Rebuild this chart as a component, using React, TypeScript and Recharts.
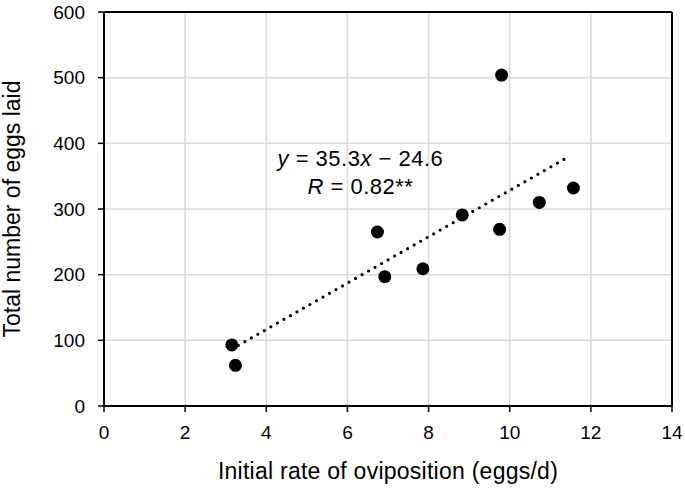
import React from "react";
import {
  ScatterChart,
  Scatter,
  XAxis,
  YAxis,
  CartesianGrid,
  ReferenceLine,
  ReferenceDot,
} from "recharts";

// Observed points
const rateValues = [3.15, 3.24, 6.74, 6.92, 7.86, 8.83, 9.75, 9.8, 10.73, 11.57];
const eggValues = [93, 62, 265, 197, 209, 291, 269, 504, 310, 332];

// Trendline end points (y = 35.3x − 24.6)
const trendX = [3.15, 11.45];
const trendY = [86.6, 379.6];

// Ticks
const xTicks = [0, 2, 4, 6, 8, 10, 12, 14];
const yTicks = [0, 100, 200, 300, 400, 500, 600];

// Annotation anchor (data coords)
const noteX = [6.32];
const noteY = [365.5];

const data = rateValues.map((x, i) => ({ x, y: eggValues[i] }));

const FONT = "'Liberation Sans', Arial, Helvetica, sans-serif";

const Dot = (props: any) => {
  const { cx, cy } = props;
  if (cx == null || cy == null) return null;
  return <circle cx={cx} cy={cy} r={6.5} fill="#000" />;
};

const XTitle = (props: any) => {
  const vb = props.viewBox || {};
  return (
    <text
      x={vb.x + vb.width / 2}
      y={vb.y + 73}
      textAnchor="middle"
      fontFamily={FONT}
      fontSize={23}
      letterSpacing={0.25}
      fill="#000"
    >
      Initial rate of oviposition (eggs/d)
    </text>
  );
};

const YTitle = (props: any) => {
  const vb = props.viewBox || {};
  const cx = 20;
  const cy = vb.y + vb.height / 2;
  return (
    <text
      x={cx}
      y={cy}
      transform={`rotate(-90 ${cx} ${cy})`}
      textAnchor="middle"
      fontFamily={FONT}
      fontSize={23}
      fill="#000"
    >
      Total number of eggs laid
    </text>
  );
};

const Note = (props: any) => {
  const vb = props.viewBox || {};
  const cx = vb.x + (vb.width || 0) / 2;
  const cy = vb.y + (vb.height || 0) / 2;
  return (
    <g fontFamily={FONT} fontSize={22} fill="#000" letterSpacing={0.5}>
      <text x={cx} y={cy} textAnchor="middle">
        <tspan fontStyle="italic">y</tspan>
        <tspan> = 35.3</tspan>
        <tspan fontStyle="italic">x</tspan>
        <tspan> − 24.6</tspan>
      </text>
      <text x={cx} y={cy + 28.5} textAnchor="middle">
        <tspan fontStyle="italic">R</tspan>
        <tspan> = 0.82**</tspan>
      </text>
    </g>
  );
};

export default function App() {
  return (
    <div style={{ position: "absolute", left: 0, top: 0 }}>
      <ScatterChart
        width={685}
        height={488}
        margin={{ top: 12, right: 13, left: 0, bottom: 0 }}
      >
        <CartesianGrid stroke="#d9d9d9" strokeWidth={1.5} />
        <XAxis
          type="number"
          dataKey="x"
          domain={[0, 14]}
          ticks={xTicks}
          interval={0}
          height={82}
          tickSize={6}
          tickMargin={14}
          axisLine={{ stroke: "#000", strokeWidth: 2 }}
          tickLine={{ stroke: "#000", strokeWidth: 1.5 }}
          tick={{ fill: "#000", fontSize: 19, fontFamily: FONT }}
          label={<XTitle />}
        />
        <YAxis
          type="number"
          dataKey="y"
          domain={[0, 600]}
          ticks={yTicks}
          interval={0}
          width={104}
          tickSize={6}
          tickMargin={13}
          axisLine={{ stroke: "#000", strokeWidth: 2 }}
          tickLine={{ stroke: "#000", strokeWidth: 1.5 }}
          tick={{ fill: "#000", fontSize: 19, fontFamily: FONT }}
          label={<YTitle />}
        />
        <ReferenceLine y={600} stroke="#000" strokeWidth={2} />
        <ReferenceLine x={14} stroke="#000" strokeWidth={2} />
        <ReferenceLine
          segment={[
            { x: trendX[0], y: trendY[0] },
            { x: trendX[1], y: trendY[1] },
          ]}
          stroke="#000"
          strokeWidth={3.2}
          strokeDasharray="0 7.5"
          strokeLinecap="round"
        />
        <Scatter
          data={data}
          fill="#000"
          shape={<Dot />}
          isAnimationActive={false}
        />
        <ReferenceDot
          x={noteX[0]}
          y={noteY[0]}
          r={1}
          fill="none"
          stroke="none"
          label={<Note />}
        />
      </ScatterChart>
    </div>
  );
}
